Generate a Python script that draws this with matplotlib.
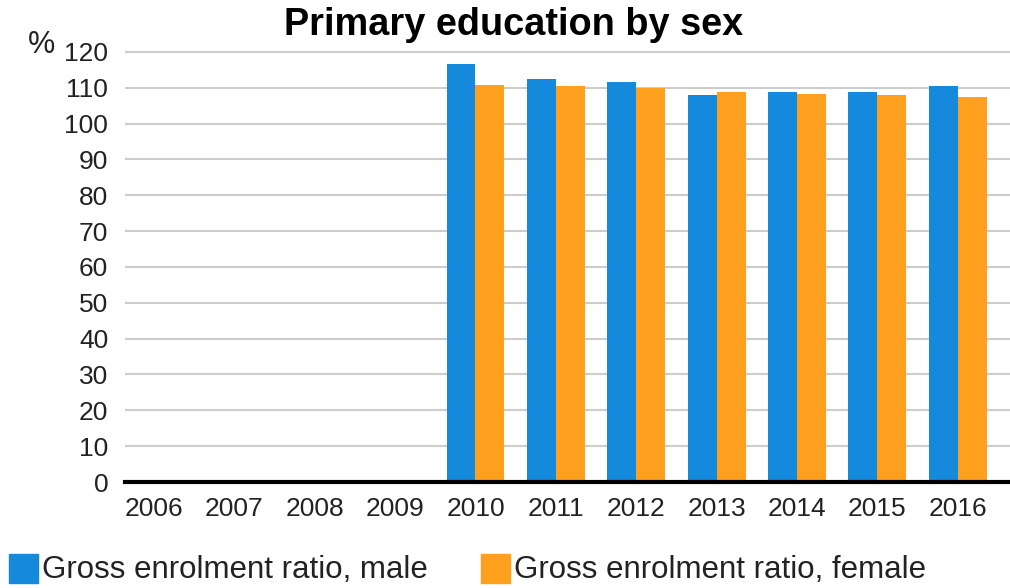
import numpy as np
import matplotlib
matplotlib.use("Agg")
import matplotlib.pyplot as plt
from matplotlib.patches import Rectangle

plt.rcParams['font.family'] = ['Liberation Sans', 'DejaVu Sans']

years = ["2006", "2007", "2008", "2009", "2010", "2011", "2012", "2013", "2014", "2015", "2016"]
male = [np.nan, np.nan, np.nan, np.nan, 116.7, 112.6, 111.5, 107.9, 108.9, 108.9, 110.4]
female = [np.nan, np.nan, np.nan, np.nan, 110.8, 110.5, 109.9, 108.9, 108.4, 108.0, 107.3]
y_ticks = [0, 10, 20, 30, 40, 50, 60, 70, 80, 90, 100, 110, 120]

BLUE = "#1589dc"
ORANGE = "#fe9f1d"
TEXT = "#222222"

W, H = 1010, 588
fig = plt.figure(figsize=(W / 100, H / 100), dpi=100)
ax = fig.add_axes([125 / W, 106 / H, 1 - 125 / W, 433.6 / H])

x = np.arange(len(years))
bw = 0.36
ax.bar(x - bw / 2, male, width=bw, color=BLUE, zorder=3)
ax.bar(x + bw / 2, female, width=bw, color=ORANGE, zorder=3)

ax.set_xlim(-0.36, 10.65)
ax.set_ylim(0, 121)
ax.set_yticks(y_ticks)
ax.set_xticks(x)
ax.set_xticklabels(years)
ax.tick_params(axis='both', length=0, labelsize=19, colors=TEXT)
ax.tick_params(axis='y', pad=12)
ax.tick_params(axis='x', pad=11)
ax.grid(axis='y', color="#cccccc", linewidth=1.5, zorder=0)
for s in ax.spines.values():
    s.set_visible(False)
ax.axhline(0, color="black", linewidth=3.0, zorder=4, clip_on=False)

fig.text(28 / W, 1 - 45 / H, "%", fontsize=22, color=TEXT, ha='left', va='center')
fig.text(514 / W, 1 - 25 / H, "Primary education by sex", fontsize=27.3, fontweight='bold',
         color='black', ha='center', va='center')

# legend
legend_items = [("Gross enrolment ratio, male", BLUE, 9),
                ("Gross enrolment ratio, female", ORANGE, 481)]
for label, col, x0 in legend_items:
    fig.patches.append(Rectangle((x0 / W, 1 - 583 / H), 28.5 / W, 29 / H,
                                 transform=fig.transFigure, color=col))
    fig.text((x0 + 33) / W, 1 - 570 / H, label, fontsize=22.5, color=TEXT,
             ha='left', va='center')

fig.savefig("out.png", dpi=100)
